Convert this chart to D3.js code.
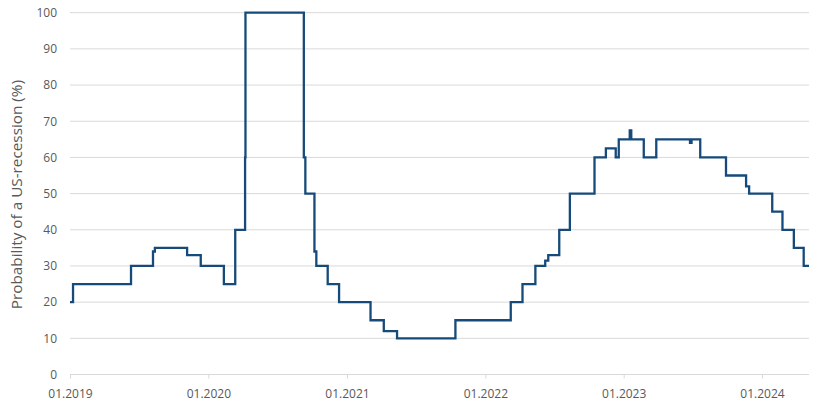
<!DOCTYPE html>
<html>
<head>
<meta charset="utf-8">
<script src="https://cdn.jsdelivr.net/npm/d3@7"></script>
<style>
  html, body { margin: 0; padding: 0; background: #fff; }
  svg { display: block; }
  text { font-family: "Open Sans", sans-serif; fill: #595959; }
</style>
</head>
<body>
<svg id="chart" width="820" height="406"></svg>
<script>
// Step-change dates and the probability value from each date onward
const changeDates = [
  "2019-01-01","2019-01-09","2019-06-11","2019-08-08","2019-08-13","2019-11-06","2019-12-12",
  "2020-02-11","2020-03-12","2020-04-07","2020-04-08","2020-09-09","2020-09-13","2020-10-07","2020-10-12",
  "2020-11-11","2020-12-11","2021-03-04","2021-04-08","2021-05-13","2021-10-14",
  "2022-03-09","2022-04-09","2022-05-13","2022-06-08","2022-06-16","2022-07-15","2022-08-12",
  "2022-10-16","2022-11-15","2022-12-11","2022-12-19","2023-01-17","2023-01-21","2023-02-23",
  "2023-03-28","2023-06-25","2023-06-29","2023-07-22","2023-09-28","2023-11-20","2023-11-28",
  "2024-01-28","2024-02-24","2024-03-25","2024-04-20","2024-05-04"
];
const probabilities = [
  20,25,30,34,35,33,30,
  25,40,60,100,60,50,34,30,
  25,20,15,12,10,15,
  20,25,30,31.5,33,40,50,
  60,62.5,60,65,67.5,65,60,
  65,64,65,60,55,52,50,
  45,40,35,30,30
];
const yTicks = [0,10,20,30,40,50,60,70,80,90,100];
const xTickDates = ["2019-01-01","2020-01-01","2021-01-01","2022-01-01","2023-01-01","2024-01-01"];
const yTitle = "Probability of a US-recession (%)";

const parse = d3.timeParse("%Y-%m-%d");
const data = changeDates.map((d, i) => ({ date: parse(d), value: probabilities[i] }));

const svg = d3.select("#chart");
const mLeft = 70, mRight = 809, mTop = 12.7, mBottom = 374.5;

const x = d3.scaleTime()
  .domain([parse("2019-01-01"), parse("2024-05-04")])
  .range([mLeft, mRight]);
const y = d3.scaleLinear().domain([0, 100]).range([mBottom, mTop]);

// gridlines
svg.append("g")
  .selectAll("line")
  .data(yTicks)
  .join("line")
  .attr("x1", mLeft).attr("x2", mRight)
  .attr("y1", d => y(d)).attr("y2", d => y(d))
  .attr("stroke", "#d9d9d9").attr("stroke-width", 1);

// y axis labels
const yAxis = d3.axisLeft(y).tickValues(yTicks).tickSize(0).tickPadding(13);
const gy = svg.append("g").attr("transform", `translate(${mLeft},0)`).call(yAxis);
gy.select(".domain").remove();
gy.selectAll("text").style("font-size", "12px").attr("fill", "#595959");

// x axis
const xAxis = d3.axisBottom(x)
  .tickValues(xTickDates.map(parse))
  .tickFormat(d3.timeFormat("%m.%Y"))
  .tickSize(4).tickPadding(11);
const gx = svg.append("g").attr("transform", `translate(0,${mBottom})`).call(xAxis);
gx.select(".domain").attr("stroke", "#d9d9d9").attr("d", `M${mLeft},0H${mRight}`);
gx.selectAll(".tick line").attr("stroke", "#d9d9d9");
gx.selectAll("text").style("font-size", "12px").attr("fill", "#595959");

// y title
svg.append("text")
  .attr("transform", `translate(21.5,${(mTop + mBottom) / 2 + 1}) rotate(-90)`)
  .attr("text-anchor", "middle")
  .style("font-size", "15.3px")
  .text(yTitle);

// line
const line = d3.line()
  .x(d => x(d.date))
  .y(d => y(d.value))
  .curve(d3.curveStepAfter);

svg.append("path")
  .datum(data)
  .attr("fill", "none")
  .attr("stroke", "#164a7a")
  .attr("stroke-width", 2.3)
  .attr("stroke-linejoin", "miter")
  .attr("d", line);
</script>
</body>
</html>
